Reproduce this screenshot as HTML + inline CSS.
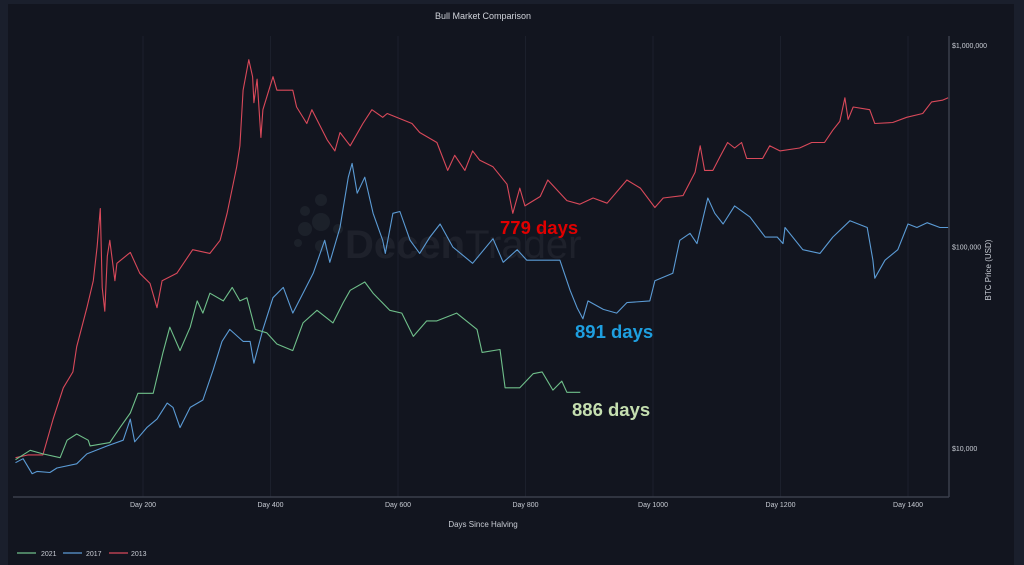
<!DOCTYPE html>
<html><head><meta charset="utf-8"><style>
html,body{margin:0;padding:0;background:#1a1f2c;}
body{width:1024px;height:565px;overflow:hidden;font-family:"Liberation Sans",sans-serif;}
#wrap{position:absolute;left:8px;top:4px;width:1006px;height:561px;background:#12151f;}
</style></head><body>
<div id="wrap"></div>
<svg id="chart" width="1024" height="565" style="position:absolute;left:0;top:0">
<text x="483" y="19" fill="#d0d3da" font-size="9" text-anchor="middle">Bull Market Comparison</text>
<g opacity="0.07">
<circle cx="321" cy="200" r="6" fill="#9bb"/><circle cx="321" cy="222" r="9" fill="#9bb"/><circle cx="305" cy="211" r="5" fill="#9bb"/><circle cx="305" cy="229" r="7" fill="#9bb"/><circle cx="338" cy="229" r="5" fill="#9bb"/><circle cx="298" cy="243" r="4" fill="#9bb"/><circle cx="321" cy="246" r="6" fill="#9bb"/>
<text x="345" y="258" fill="#bbc" font-size="40"><tspan font-weight="bold">Decen</tspan>Trader</text>
</g>
<g id="grid"></g>
<g id="series"></g>
<line x1="13" y1="497" x2="949" y2="497" stroke="#3a3f4c" stroke-width="1.5"/>
<line x1="949" y1="36" x2="949" y2="497" stroke="#3a3f4c" stroke-width="1.5"/>
<g id="xticks"></g>
<g id="yticks"></g>
<text x="483" y="527" fill="#c8ccd4" font-size="8" text-anchor="middle">Days Since Halving</text>
<text transform="translate(991,270) rotate(-90)" fill="#c8ccd4" font-size="8" text-anchor="middle">BTC Price (USD)</text>
<text x="500" y="234" fill="#e00000" font-size="18.5" font-weight="bold">779 days</text>
<text x="575" y="338" fill="#1e9fe0" font-size="18.5" font-weight="bold">891 days</text>
<text x="572" y="416" fill="#c5dfb0" font-size="18.5" font-weight="bold">886 days</text>
<g>
<g><line x1="17" y1="553" x2="36" y2="553" stroke="#6fbf8a" stroke-width="1.2"/><text x="41" y="556" fill="#c8ccd4" font-size="7">2021</text></g>
<g><line x1="63" y1="553" x2="82" y2="553" stroke="#5b9bd5" stroke-width="1.2"/><text x="86" y="556" fill="#c8ccd4" font-size="7">2017</text></g>
<g><line x1="109" y1="553" x2="128" y2="553" stroke="#d9495a" stroke-width="1.2"/><text x="131" y="556" fill="#c8ccd4" font-size="7">2013</text></g>
</g>
</svg>
<script>
const xTickDays=[200,400,600,800,1000,1200,1400];
const yTickValues=[10000,100000,1000000];
const yTickLabels=["$10,000","$100,000","$1,000,000"];
const days2013=[0,20,43,59,75,90,96,112,122,128,133,136,140,144,148,156,159,180,195,211,222,230,253,278,305,321,332,347,352,357,366,372,374,379,385,388,404,410,435,441,457,465,489,501,509,525,545,559,576,583,622,634,661,678,689,705,717,728,749,771,780,791,799,823,835,865,885,906,928,959,980,1003,1016,1047,1066,1074,1081,1094,1105,1117,1128,1139,1147,1172,1183,1199,1230,1249,1269,1282,1293,1301,1306,1314,1340,1348,1376,1398,1423,1437,1454,1463];
const price2013=[9000,9300,9300,14000,20000,24000,32000,50000,68000,100000,155000,63000,48000,90000,108000,68000,83000,94000,74000,66000,50000,68000,74000,97000,93000,108000,147000,250000,318000,600000,850000,700000,520000,680000,350000,480000,700000,600000,600000,495000,410000,480000,340000,300000,370000,318000,410000,480000,440000,460000,410000,370000,330000,240000,285000,240000,300000,270000,250000,205000,147000,196000,160000,178000,215000,170000,163000,175000,165000,215000,196000,157000,175000,180000,235000,318000,240000,240000,280000,330000,310000,330000,275000,275000,318000,300000,310000,330000,330000,380000,420000,550000,430000,495000,480000,410000,415000,440000,460000,525000,535000,550000];
const days2017=[0,12,26,34,54,65,96,112,144,169,180,187,206,222,238,247,258,274,294,310,324,336,357,368,374,388,404,420,435,451,467,485,493,509,522,528,536,548,561,576,580,592,603,619,634,650,666,686,717,749,765,787,802,854,870,881,890,898,922,943,959,995,1003,1031,1042,1058,1069,1086,1097,1110,1128,1152,1176,1195,1204,1207,1235,1262,1282,1309,1336,1345,1348,1364,1384,1400,1414,1430,1450,1463];
const price2017=[8500,8900,7500,7700,7600,8000,8400,9400,10300,11000,14000,10800,12700,14000,16800,16000,12700,16000,17400,24500,34000,39000,34000,34000,26500,39000,56000,63000,47000,59000,74000,108000,84000,125000,222000,260000,185000,222000,147000,108000,93000,147000,150000,108000,93000,112000,130000,100000,83000,110000,84000,97000,86000,86000,61000,50000,44000,54000,49000,47000,53000,54000,68000,74000,108000,117000,104000,175000,147000,130000,160000,141000,112000,112000,104000,125000,97000,93000,112000,135000,125000,86000,70000,86000,97000,130000,125000,132000,125000,125000];
const days2021=[0,23,43,70,81,96,114,117,148,164,180,192,216,231,242,258,274,285,294,305,326,340,352,363,376,394,410,435,451,473,498,514,525,548,561,587,606,624,645,661,692,724,732,760,768,791,812,826,843,857,865,886];
const price2021=[8800,9800,9400,9000,11000,11800,11000,10300,10700,12700,15000,18800,18800,29700,40000,30600,40000,54000,47000,59000,54000,63000,54000,56000,39000,37500,33000,30600,42000,48500,42000,53000,61000,67000,59000,48500,47000,36000,43000,43000,47000,39000,30000,31000,20000,20000,23500,24000,19500,21600,19000,19000];

const NS="http://www.w3.org/2000/svg";
const X0=15.5, XPD=0.6375, Y100K=247, DEC=201.5;
function xScale(d){return X0+d*XPD;}
function yScale(v){return Y100K-DEC*(Math.log10(v)-5);}
const grid=document.getElementById('grid'),xt=document.getElementById('xticks'),yt=document.getElementById('yticks'),sg=document.getElementById('series');
xTickDays.forEach(d=>{
  const l=document.createElementNS(NS,'line');
  
  
  l.setAttribute('x1',xScale(d));l.setAttribute('x2',xScale(d));l.setAttribute('y1',36);l.setAttribute('y2',497);
  l.setAttribute('stroke','#1c202c');l.setAttribute('stroke-width','1');grid.appendChild(l);
  const t=document.createElementNS(NS,'text');
  
  
  t.setAttribute('x',xScale(d));t.setAttribute('y',507);t.setAttribute('fill','#c8ccd4');t.setAttribute('font-size','7');t.setAttribute('text-anchor','middle');
  t.textContent='Day '+d;xt.appendChild(t);
});
yTickValues.forEach((v,i)=>{
  const t=document.createElementNS(NS,'text');
  
  
  t.setAttribute('x',952);t.setAttribute('y',yScale(v)+2.5);t.setAttribute('fill','#c8ccd4');t.setAttribute('font-size','7');
  t.textContent=yTickLabels[i];yt.appendChild(t);
});
function drawLine(days,prices,color,name){
  const p=document.createElementNS(NS,'path');
  
  
  p.setAttribute('d',days.map((d,i)=>(i?'L':'M')+xScale(d).toFixed(1)+' '+yScale(prices[i]).toFixed(1)).join(' '));
  p.setAttribute('fill','none');p.setAttribute('stroke',color);p.setAttribute('stroke-width','1.1');p.setAttribute('stroke-linejoin','round');
  sg.appendChild(p);
}
drawLine(days2013,price2013,'#d9495a','series-2013');
drawLine(days2017,price2017,'#5b9bd5','series-2017');
drawLine(days2021,price2021,'#6fbf8a','series-2021');
</script>
</body></html>
